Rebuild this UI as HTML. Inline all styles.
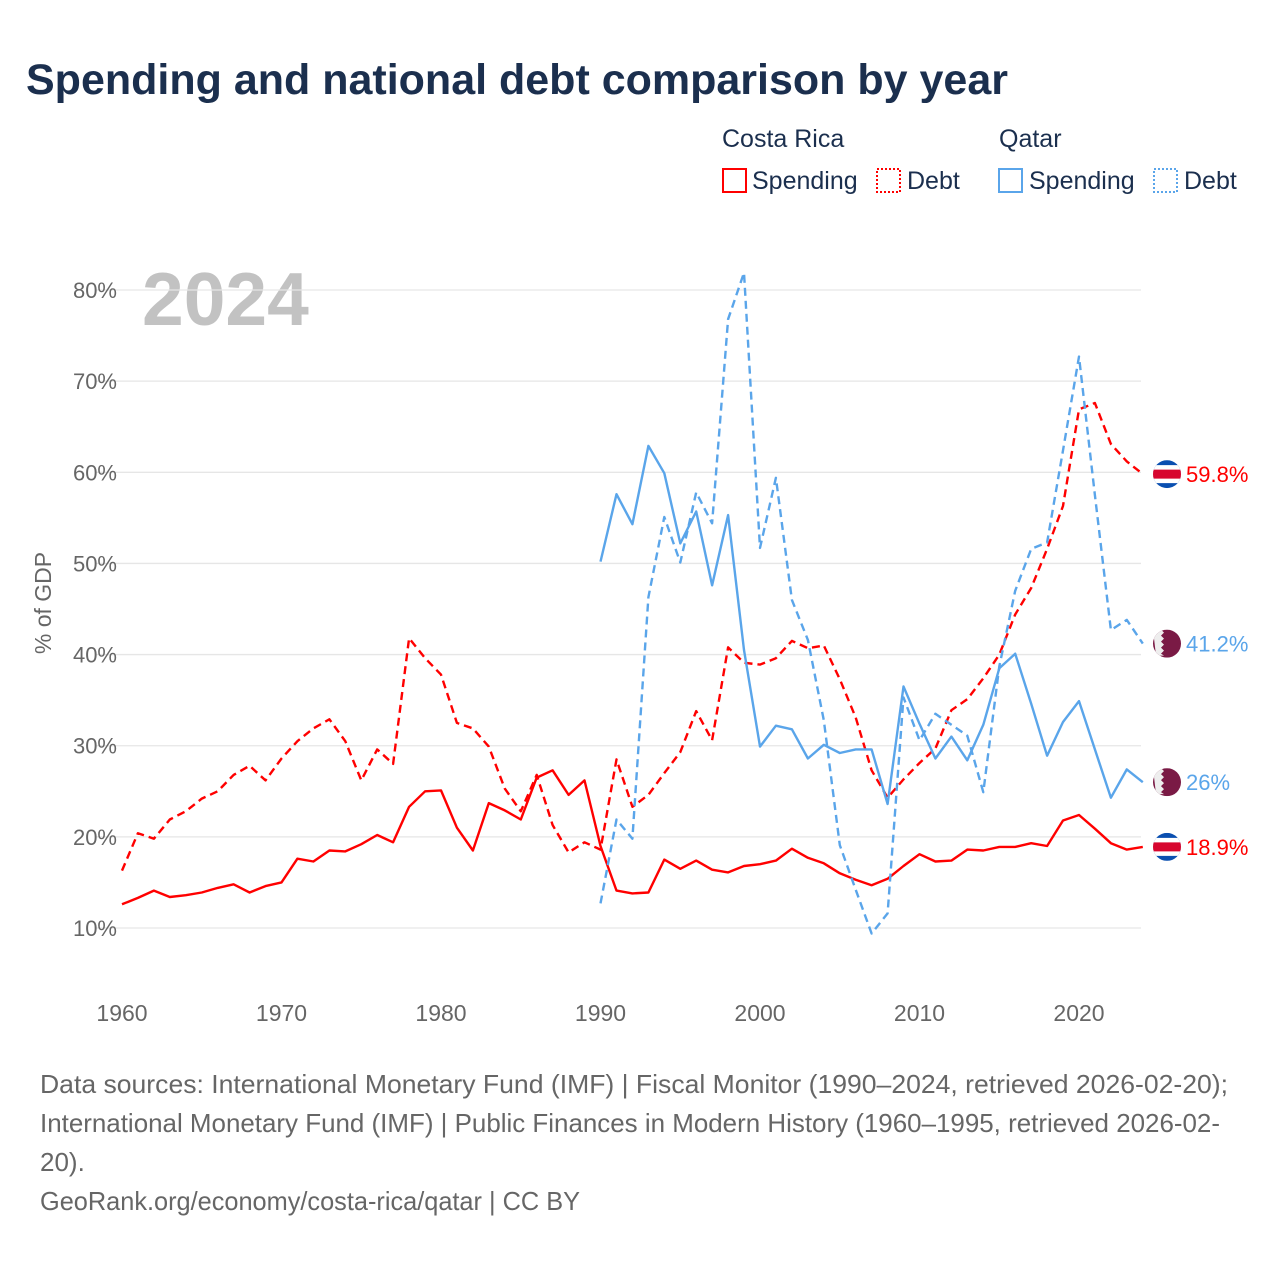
<!DOCTYPE html>
<html><head><meta charset="utf-8"><style>
body{margin:0;background:#fff;font-family:"Liberation Sans",sans-serif;}
svg text{font-family:"Liberation Sans",sans-serif;}
</style></head><body>
<svg width="1280" height="1280" viewBox="0 0 1280 1280" xmlns="http://www.w3.org/2000/svg">
<text x="26" y="94" font-size="43" font-weight="bold" fill="#1b2f4e">Spending and national debt comparison by year</text>
<g font-size="25" fill="#1b2f4e">
<text x="722" y="147">Costa Rica</text>
<text x="999" y="147">Qatar</text>
<g><rect x="723" y="169" width="23" height="23" fill="none" stroke="#f00" stroke-width="2"/><text x="752" y="189">Spending</text></g>
<g><rect x="877" y="169" width="23" height="23" fill="none" stroke="#f00" stroke-width="2" stroke-dasharray="2,2"/><text x="907" y="189">Debt</text></g>
<g><rect x="999" y="169" width="23" height="23" fill="none" stroke="#5aa5ea" stroke-width="2"/><text x="1029" y="189">Spending</text></g>
<g><rect x="1154" y="169" width="23" height="23" fill="none" stroke="#5aa5ea" stroke-width="2" stroke-dasharray="2,2"/><text x="1184" y="189">Debt</text></g>
</g>
<text x="142" y="325" font-size="75" font-weight="bold" fill="#c2c2c2">2024</text>
<text transform="translate(51,603) rotate(-90)" text-anchor="middle" font-size="23" fill="#666">% of GDP</text>
<g id="grid"></g><g id="series"></g><g id="ends"></g>
<g font-size="26" fill="#666">
<text x="40" y="1093" textLength="1188" lengthAdjust="spacingAndGlyphs">Data sources: International Monetary Fund (IMF) | Fiscal Monitor (1990–2024, retrieved 2026-02-20);</text>
<text x="40" y="1132" textLength="1180" lengthAdjust="spacingAndGlyphs">International Monetary Fund (IMF) | Public Finances in Modern History (1960–1995, retrieved 2026-02-</text>
<text x="40" y="1171">20).</text>
<text x="40" y="1210" textLength="540" lengthAdjust="spacingAndGlyphs">GeoRank.org/economy/costa-rica/qatar | CC BY</text>
</g>
</svg>
<script>
const yTicks=[10,20,30,40,50,60,70,80];
const xTicks=[1960,1970,1980,1990,2000,2010,2020];
const crSpendStart=1960;
const crSpending=[12.6,13.3,14.1,13.4,13.6,13.9,14.4,14.8,13.9,14.6,15.0,17.6,17.3,18.5,18.4,19.2,20.2,19.4,23.3,25.0,25.1,21.0,18.5,23.7,22.9,21.9,26.5,27.3,24.6,26.2,19.0,14.1,13.8,13.9,17.5,16.5,17.4,16.4,16.1,16.8,17.0,17.4,18.7,17.7,17.1,16.0,15.3,14.7,15.4,16.8,18.1,17.3,17.4,18.6,18.5,18.9,18.9,19.3,19.0,21.8,22.4,20.9,19.3,18.6,18.9];
const crDebt=[16.3,20.4,19.8,21.9,22.8,24.2,25.0,26.8,27.8,26.2,28.6,30.5,31.9,32.9,30.5,26.2,29.6,28.0,41.8,39.6,37.8,32.5,31.9,29.9,25.3,22.8,26.8,21.3,18.3,19.4,18.6,28.5,23.3,24.6,27.0,29.3,33.8,30.6,40.8,39.1,38.9,39.6,41.5,40.7,41.0,37.3,33.1,27.3,24.3,26.3,28.1,29.7,33.9,35.1,37.4,40.0,44.4,47.3,51.6,56.3,66.9,67.6,63.1,61.2,59.8];
const qaStart=1990;
const qaSpending=[50.2,57.6,54.3,62.9,59.9,52.2,55.7,47.6,55.3,40.5,29.9,32.2,31.8,28.6,30.1,29.2,29.6,29.6,23.6,36.5,32.4,28.6,31.0,28.4,32.3,38.5,40.1,34.6,28.9,32.6,34.9,29.6,24.3,27.4,26.0];
const qaDebt=[12.7,21.9,19.8,46.3,55.1,50.1,57.8,54.4,76.8,81.9,51.7,59.4,46.0,41.6,32.8,19.1,14.2,9.4,11.6,35.3,30.6,33.5,32.3,31.1,24.9,38.7,47.0,51.6,52.3,62.4,72.7,57.5,42.7,43.8,41.2];
const endLabels=["59.8%","41.2%","26%","18.9%"];

const NS="http://www.w3.org/2000/svg";
const X=y=>122+(y-1960)*15.95;
const Y=v=>928-(v-10)*9.114;
function mk(t,a,p){const e=document.createElementNS(NS,t);for(const k in a)e.setAttribute(k,a[k]);p.appendChild(e);return e;}
const grid=document.getElementById('grid');
yTicks.forEach(v=>{
 const l=mk('line',{x1:95,x2:1141,y1:Y(v),y2:Y(v),stroke:'#e6e6e6','stroke-width':1.3},grid);
 
 
 const t=mk('text',{x:117,y:Y(v)+8,'text-anchor':'end','font-size':22,fill:'#666'},grid);
 t.textContent=v+'%';
 
 
});
xTicks.forEach(y=>{
 const t=mk('text',{x:X(y),y:1021,'text-anchor':'middle','font-size':23,fill:'#666'},grid);
 t.textContent=y;
 
 
});
const S=document.getElementById('series');
function line(vals,start,color,dash,name){
 const pts=vals.map((v,i)=>X(start+i).toFixed(1)+','+Y(v).toFixed(1)).join(' ');
 const a={points:pts,fill:'none',stroke:color,'stroke-width':2.4,'stroke-linejoin':'round'};
 if(dash)a['stroke-dasharray']=dash;
 const p=mk('polyline',a,S);
 
 
}
const RED='#ff0000',BLUE='#5aa5ea';
line(crDebt,crSpendStart,RED,'8,5','line-costa-rica-debt');
line(crSpending,crSpendStart,RED,null,'line-costa-rica-spending');
line(qaDebt,qaStart,BLUE,'8,5','line-qatar-debt');
line(qaSpending,qaStart,BLUE,null,'line-qatar-spending');
const E=document.getElementById('ends');
const ends=[[crDebt[crDebt.length-1],'cr',RED],[qaDebt[qaDebt.length-1],'qa',BLUE],[qaSpending[qaSpending.length-1],'qa',BLUE],[crSpending[crSpending.length-1],'cr',RED]];
ends.forEach((e,i)=>{
 const cy=Y(e[0]),cx=1167;
 const g=mk('g',{},E);
 
 
 const id='c'+i;
 const cp=mk('clipPath',{id:id},g);mk('circle',{cx:cx,cy:cy,r:14},cp);
 const f=mk('g',{'clip-path':'url(#'+id+')'},g);
 if(e[1]==='cr'){
  mk('rect',{x:cx-14,y:cy-14,width:28,height:28,fill:'#0a4fb0'},f);
  mk('rect',{x:cx-14,y:cy-9,width:28,height:18,fill:'#fff'},f);
  mk('rect',{x:cx-14,y:cy-4.5,width:28,height:9,fill:'#d7062f'},f);
 }else{
  mk('rect',{x:cx-14,y:cy-14,width:28,height:28,fill:'#7a1a45'},f);
  mk('path',{d:`M${cx-14},${cy-14} h8 l3,3 l-3,3 l3,3 l-3,3 l3,3 l-3,3 l3,3 l-3,3 l3,2 h-8 z`,fill:'#eee'},f);
 }
 const t=mk('text',{x:1186,y:cy+8,'font-size':22,fill:e[2]},g);
 t.textContent=endLabels[i];
});
</script>
</body></html>
